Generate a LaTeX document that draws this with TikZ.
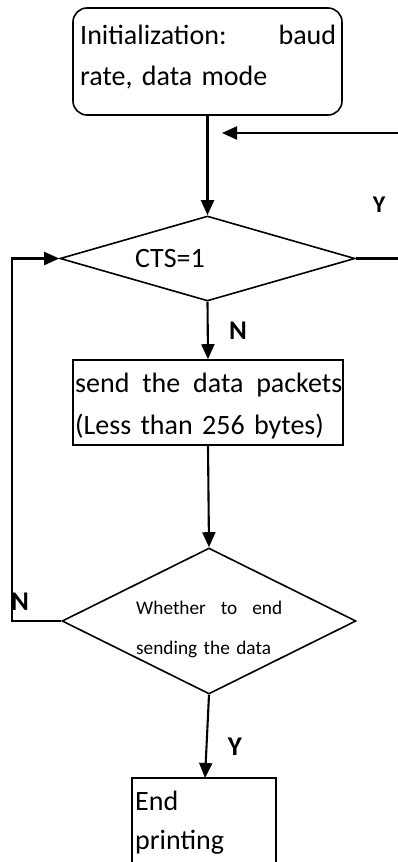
\documentclass[tikz,border=0pt]{standalone}
\usepackage{fontspec}
\setmainfont{Carlito}
\usetikzlibrary{shapes.geometric,arrows.meta}
\tikzset{
  box/.style={draw, line width=1.6pt, inner sep=0pt},
  dia/.style={draw, diamond, line width=1.6pt, inner sep=0pt},
  conn/.style={line width=2.1pt, -{Triangle[length=15pt,width=13pt]}},
  plain/.style={line width=2.1pt},
  yn/.style={font=\fontsize{27}{29}\selectfont\bfseries, inner sep=0pt},
  big/.style={font=\fontsize{28}{41}\selectfont, inner sep=0pt},
}
\begin{document}
\begin{tikzpicture}[x=1pt,y=-1pt]
\useasboundingbox (0,0) rectangle (398,862);
\node[box, rounded corners=14pt, minimum width=269pt, minimum height=107pt] (init) at (207.5,61.5) {};
\node[big, text width=256pt, align=left, anchor=base west] (inittxt) at (80,44) {Initialization:\hfill baud\\rate, data mode};
\node[dia, minimum width=295pt, minimum height=85pt] (d1) at (207.5,258.5) {};
\node[big] (ctstxt) at (170,259) {CTS=1};
\node[box, minimum width=270pt, minimum height=85pt] (send) at (208,402.5) {};
\node[big, font=\fontsize{28}{42}\selectfont, text width=267pt, align=left, anchor=base west] (sendtxt) at (75,392) {send\hfill the\hfill data\hfill packets\\(Less than 256 bytes)};
\node[dia, minimum width=294pt, minimum height=146pt] (d2) at (209,621) {};
\node[font=\fontsize{19.3}{40}\selectfont, text width=146pt, align=left, inner sep=0pt, anchor=base west] (d2txt) at (136,614) {Whether\hfill to\hfill end\\sending the data};
\draw[box] (132,778) rectangle (276,880);
\node[big, font=\fontsize{28}{39}\selectfont, text width=130pt, align=left, anchor=base west] (endtxt) at (135,810) {End\\printing};
\coordinate (endtop) at (205,778);
\coordinate (rin) at (398,133);
\coordinate (rtip) at (222,133);
\coordinate (rout) at (398,258.5);
\coordinate (ll) at (12,621);
\coordinate (lu) at (12,258.5);
\draw[conn] (init.south) -- (d1.north);
\draw[conn] (rin) -- (rtip);
\draw[plain] (d1.east) -- (rout);
\draw[conn] (d1.south) -- (send.north);
\draw[conn] (send.south) -- (d2.north);
\draw[conn] (d2.south) -- (endtop);
\draw[conn] (d2.west) -- (ll) -- (lu) -- (d1.west);
\node[yn, font=\fontsize{24}{26}\selectfont\bfseries] (y1) at (379,205) {Y};
\node[yn] (n1) at (238,331) {N};
\node[yn] (n2) at (20,602) {N};
\node[yn] (y2) at (235,747) {Y};
\end{tikzpicture}
\end{document}
